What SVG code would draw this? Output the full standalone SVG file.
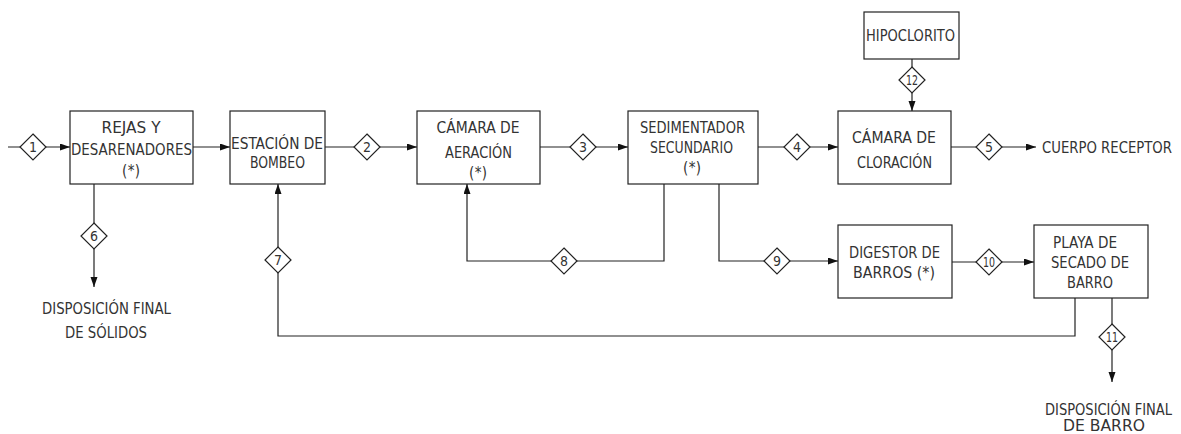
<svg xmlns="http://www.w3.org/2000/svg" width="1181" height="434" viewBox="0 0 1181 434">
<style>
.box{fill:#fff;stroke:#222;stroke-width:1.2}
.ln{fill:none;stroke:#222;stroke-width:1.2}
.dia{fill:#fff;stroke:#222;stroke-width:1.2}
.t{font-family:"DejaVu Sans Condensed","DejaVu Sans",sans-serif;font-size:15px;fill:#333;text-anchor:middle}
.tl{font-family:"DejaVu Sans Condensed","DejaVu Sans",sans-serif;font-size:15px;fill:#333;text-anchor:start}
.n{font-family:"DejaVu Sans Condensed","DejaVu Sans",sans-serif;font-size:14px;fill:#333;text-anchor:middle}
</style>
<defs>
<marker id="ah" markerUnits="userSpaceOnUse" markerWidth="11" markerHeight="8" refX="10" refY="3.5" orient="auto">
<path d="M0,0 L10,3.5 L0,7 z" fill="#111"/>
</marker>
<path id="d" d="M0,-13 L13,0 L0,13 L-13,0 z"/>
</defs>

<g id="connectors">
<path class="ln" d="M8,147 H70" marker-end="url(#ah)"/>
<path class="ln" d="M193,147 H230" marker-end="url(#ah)"/>
<path class="ln" d="M325,147 H417" marker-end="url(#ah)"/>
<path class="ln" d="M540,147 H628" marker-end="url(#ah)"/>
<path class="ln" d="M758,147 H838" marker-end="url(#ah)"/>
<path class="ln" d="M951,147 H1036" marker-end="url(#ah)"/>
<path class="ln" d="M912,59 V111" marker-end="url(#ah)"/>
<path class="ln" d="M94,184 V287" marker-end="url(#ah)"/>
<path class="ln" d="M1075,298 V336 H278 V184" marker-end="url(#ah)"/>
<path class="ln" d="M664,184 V261 H467 V184" marker-end="url(#ah)"/>
<path class="ln" d="M719,184 V261 H838" marker-end="url(#ah)"/>
<path class="ln" d="M952,262 H1034" marker-end="url(#ah)"/>
<path class="ln" d="M1112,298 V382" marker-end="url(#ah)"/>
<g id="flow-labels">
<use href="#d" class="dia" x="33" y="147"/><text class="n" x="33" y="152">1</text>
<use href="#d" class="dia" x="367" y="147"/><text class="n" x="367" y="152">2</text>
<use href="#d" class="dia" x="583" y="147"/><text class="n" x="583" y="152">3</text>
<use href="#d" class="dia" x="797" y="147"/><text class="n" x="797" y="152">4</text>
<use href="#d" class="dia" x="989" y="147"/><text class="n" x="989" y="152">5</text>
<use href="#d" class="dia" x="94" y="236"/><text class="n" x="94" y="241">6</text>
<use href="#d" class="dia" x="278" y="260"/><text class="n" x="278" y="265">7</text>
<use href="#d" class="dia" x="564" y="261"/><text class="n" x="564" y="266">8</text>
<use href="#d" class="dia" x="777" y="261"/><text class="n" x="777" y="266">9</text>
<use href="#d" class="dia" x="989" y="262"/><text class="n" x="989" y="267" textLength="12" lengthAdjust="spacingAndGlyphs">10</text>
<use href="#d" class="dia" x="1112" y="337"/><text class="n" x="1112" y="342" textLength="12" lengthAdjust="spacingAndGlyphs">11</text>
<use href="#d" class="dia" x="912" y="80"/><text class="n" x="912" y="85" textLength="12" lengthAdjust="spacingAndGlyphs">12</text>
</g>
</g>

<g id="rejas">
<rect class="box" x="70" y="111" width="123" height="73"/>
<text class="t" x="131" y="133" textLength="59" lengthAdjust="spacingAndGlyphs">REJAS Y</text>
<text class="t" x="131.5" y="155" textLength="121" lengthAdjust="spacingAndGlyphs">DESARENADORES</text>
<text class="t" x="131" y="176" textLength="18" lengthAdjust="spacing">(*)</text>
</g>
<g id="estacion">
<rect class="box" x="230" y="111" width="95" height="73"/>
<text class="t" x="277" y="149" textLength="92" lengthAdjust="spacingAndGlyphs">ESTACIÓN DE</text>
<text class="t" x="277.5" y="168" textLength="55" lengthAdjust="spacingAndGlyphs">BOMBEO</text>
</g>
<g id="aeracion">
<rect class="box" x="417" y="111" width="123" height="73"/>
<text class="t" x="478" y="133" textLength="83" lengthAdjust="spacingAndGlyphs">CÁMARA DE</text>
<text class="t" x="478.5" y="158" textLength="67" lengthAdjust="spacingAndGlyphs">AERACIÓN</text>
<text class="t" x="478" y="178" textLength="18" lengthAdjust="spacing">(*)</text>
</g>
<g id="sedimentador">
<rect class="box" x="628" y="111" width="130" height="73"/>
<text class="t" x="692.5" y="133" textLength="105" lengthAdjust="spacingAndGlyphs">SEDIMENTADOR</text>
<text class="t" x="691.5" y="153" textLength="83" lengthAdjust="spacingAndGlyphs">SECUNDARIO</text>
<text class="t" x="692" y="173" textLength="18" lengthAdjust="spacing">(*)</text>
</g>
<g id="hipoclorito">
<rect class="box" x="864" y="12" width="95" height="47"/>
<text class="t" x="910.5" y="41" textLength="89" lengthAdjust="spacingAndGlyphs">HIPOCLORITO</text>
</g>
<g id="cloracion">
<rect class="box" x="838" y="111" width="113" height="73"/>
<text class="t" x="894" y="143" textLength="84" lengthAdjust="spacingAndGlyphs">CÁMARA DE</text>
<text class="t" x="894.5" y="168" textLength="75" lengthAdjust="spacingAndGlyphs">CLORACIÓN</text>
</g>
<g id="cuerpo-receptor">
<text class="tl" x="1042" y="153" textLength="130" lengthAdjust="spacingAndGlyphs">CUERPO RECEPTOR</text>
</g>
<g id="digestor">
<rect class="box" x="838" y="225" width="114" height="73"/>
<text class="t" x="894.5" y="258" textLength="91" lengthAdjust="spacingAndGlyphs">DIGESTOR DE</text>
<text class="t" x="894" y="278" textLength="82" lengthAdjust="spacingAndGlyphs">BARROS (*)</text>
</g>
<g id="playa">
<rect class="box" x="1034" y="225" width="114" height="73"/>
<text class="t" x="1085" y="248" textLength="64" lengthAdjust="spacingAndGlyphs">PLAYA DE</text>
<text class="t" x="1090" y="268" textLength="78" lengthAdjust="spacingAndGlyphs">SECADO DE</text>
<text class="t" x="1090" y="288" textLength="46" lengthAdjust="spacingAndGlyphs">BARRO</text>
</g>
<g id="disp-solidos">
<text class="t" x="106.5" y="314" textLength="129" lengthAdjust="spacingAndGlyphs">DISPOSICIÓN FINAL</text>
<text class="t" x="106" y="338" textLength="82" lengthAdjust="spacingAndGlyphs">DE SÓLIDOS</text>
</g>
<g id="disp-barro">
<text class="t" x="1108.5" y="415" textLength="127" lengthAdjust="spacingAndGlyphs">DISPOSICIÓN FINAL</text>
<text class="t" x="1104" y="431" font-size="14" textLength="82" lengthAdjust="spacingAndGlyphs">DE BARRO</text>
</g>
</svg>
